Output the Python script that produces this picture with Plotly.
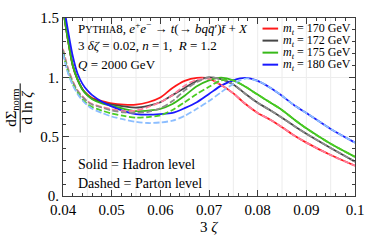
import plotly.graph_objects as go

# ---------------- data ----------------
zeta3 = [0.040, 0.041, 0.042, 0.043, 0.044, 0.045, 0.046, 0.048, 0.050, 0.0525,
         0.055, 0.0575, 0.060, 0.0625, 0.065, 0.0675, 0.070, 0.0725, 0.075, 0.0775,
         0.080, 0.0825, 0.085, 0.0875, 0.090, 0.095, 0.100]

masses = [170, 172, 175, 180]

hadron_170 = [1.58, 1.32, 1.10, 0.98, 0.90, 0.855, 0.825, 0.80, 0.78, 0.77,
              0.77, 0.79, 0.83, 0.91, 0.97, 0.995, 0.99, 0.935, 0.865, 0.775,
              0.70, 0.645, 0.58, 0.51, 0.45, 0.345, 0.255]
hadron_172 = [1.58, 1.32, 1.10, 0.98, 0.90, 0.85, 0.82, 0.79, 0.77, 0.755,
              0.745, 0.76, 0.79, 0.85, 0.91, 0.97, 1.00, 0.985, 0.94, 0.86,
              0.785, 0.725, 0.66, 0.59, 0.525, 0.405, 0.29]
hadron_175 = [1.58, 1.32, 1.10, 0.98, 0.895, 0.85, 0.815, 0.78, 0.76, 0.735,
              0.715, 0.72, 0.735, 0.775, 0.845, 0.925, 0.975, 0.997, 0.975, 0.92,
              0.855, 0.79, 0.725, 0.645, 0.57, 0.44, 0.33]
hadron_180 = [1.64, 1.40, 1.18, 1.03, 0.945, 0.89, 0.85, 0.795, 0.755, 0.715,
              0.69, 0.685, 0.69, 0.70, 0.74, 0.79, 0.86, 0.93, 0.975, 0.995,
              0.97, 0.915, 0.845, 0.765, 0.70, 0.565, 0.45]

parton_170 = [1.24, 1.08, 0.97, 0.89, 0.84, 0.80, 0.775, 0.75, 0.73, 0.715,
              0.72, 0.75, 0.79, 0.85, 0.93, 0.98, 0.99, 0.935, 0.865, 0.775,
              0.70, 0.645, 0.58, 0.51, 0.45, 0.345, 0.255]
parton_172 = [1.23, 1.07, 0.96, 0.885, 0.835, 0.795, 0.77, 0.745, 0.72, 0.705,
              0.70, 0.71, 0.74, 0.80, 0.89, 0.96, 1.00, 0.985, 0.94, 0.86,
              0.785, 0.725, 0.66, 0.59, 0.525, 0.405, 0.29]
parton_175 = [1.21, 1.05, 0.945, 0.87, 0.815, 0.775, 0.75, 0.72, 0.695, 0.675,
              0.66, 0.665, 0.68, 0.725, 0.79, 0.86, 0.92, 0.975, 0.975, 0.92,
              0.855, 0.79, 0.725, 0.645, 0.57, 0.44, 0.33]
parton_180 = [1.20, 1.04, 0.935, 0.86, 0.805, 0.765, 0.735, 0.70, 0.67, 0.645,
              0.625, 0.615, 0.62, 0.635, 0.675, 0.735, 0.80, 0.875, 0.945, 0.99,
              0.97, 0.915, 0.845, 0.765, 0.70, 0.565, 0.45]

x_tick_vals = [0.04, 0.05, 0.06, 0.07, 0.08, 0.09, 0.1]
x_tick_text = ["0.04", "0.05", "0.06", "0.07", "0.08", "0.09", "0.1"]
y_tick_vals = [0.0, 0.5, 1.0, 1.5]
y_tick_text = ["0.", "0.5", "1.", "1.5"]

# ---------------- styles ----------------
hadron_series = [hadron_170, hadron_172, hadron_175, hadron_180]
parton_series = [parton_170, parton_172, parton_175, parton_180]
solid_colors = ["rgb(255,25,25)", "rgb(70,70,70)", "rgb(55,185,25)", "rgb(25,25,255)"]
dashed_colors = ["rgb(255,125,155)", "rgb(140,140,140)", "rgb(75,205,35)", "rgb(140,190,255)"]
FONT = "Liberation Serif, serif"

fig = go.Figure()
for ys, col in zip(hadron_series, solid_colors):
    fig.add_trace(go.Scatter(x=zeta3, y=ys, mode="lines", showlegend=False,
                             line=dict(color=col, width=1.8, shape="spline", smoothing=0.8)))
for ys, col in zip(parton_series, dashed_colors):
    fig.add_trace(go.Scatter(x=zeta3, y=ys, mode="lines", showlegend=False,
                             line=dict(color=col, width=1.8, dash="6px,2.5px",
                                       shape="spline", smoothing=0.8)))

# vertical grid lines every 0.005
grid_x = [0.04 + 0.005 * k for k in range(1, 12)]
shapes = [dict(type="line", xref="x", yref="paper", x0=g, x1=g, y0=0, y1=1,
               line=dict(color="rgb(236,236,236)", width=1), layer="below") for g in grid_x]

annotations = []
def txt(px, py, text, size=14, anchor="left"):
    annotations.append(dict(xref="paper", yref="paper", x=(px - 63) / 300, y=(196 - py) / 185,
                            text=text, showarrow=False, xanchor=anchor, yanchor="middle",
                            font=dict(family=FONT, size=size, color="black")))

txt(76, 21, "P<span style='font-size:10px'>YTHIA</span>8, <i>e</i><sup>+</sup><i>e</i><sup>−</sup> → "
            "<i>t</i>(→ <i>bq</i><i>q̄</i>′)<i>t̄</i> + <i>X</i>", size=13)
txt(76, 40, "3 <i>δζ</i> = 0.02, <i>n</i> = 1,  <i>R</i> = 1.2", size=13)
txt(76, 59, "<i>Q</i> = 2000 GeV", size=13)
txt(76, 163, "Solid = Hadron level", size=14)
txt(76, 183, "Dashed = Parton level", size=14)

# manual legend
legend_rows = [22, 34.5, 47, 59.5]
for m, col, py in zip(masses, solid_colors, legend_rows):
    shapes.append(dict(type="line", xref="paper", yref="paper",
                       x0=(268 - 63) / 300, x1=(284 - 63) / 300,
                       y0=(196 - py) / 185, y1=(196 - py) / 185,
                       line=dict(color=col, width=2)))
    txt(287, py, f"<i>m</i><sub><i>t</i></sub> = {m} GeV", size=12)

# y-axis title as a fraction
annotations.append(dict(xref="paper", yref="paper", x=(11 - 63) / 300, y=(196 - 104) / 185,
                        text="dΣ<sub>norm</sub>", textangle=-90, showarrow=False,
                        xanchor="center", yanchor="middle",
                        font=dict(family=FONT, size=15, color="black")))
annotations.append(dict(xref="paper", yref="paper", x=(27 - 63) / 300, y=(196 - 104) / 185,
                        text="d ln <i>ζ</i>", textangle=-90, showarrow=False,
                        xanchor="center", yanchor="middle",
                        font=dict(family=FONT, size=15, color="black")))
shapes.append(dict(type="line", xref="paper", yref="paper",
                   x0=(19 - 63) / 300, x1=(19 - 63) / 300,
                   y0=(196 - 79) / 185, y1=(196 - 130) / 185,
                   line=dict(color="black", width=1)))
# x-axis title
txt(213, 228, "3 <i>ζ</i>", size=15, anchor="center")

axis_common = dict(showline=True, linecolor="rgb(60,60,60)", linewidth=1, mirror="allticks",
                   ticks="inside", ticklen=6, tickcolor="rgb(60,60,60)", zeroline=False,
                   tickfont=dict(family=FONT, size=15, color="black"))

fig.update_layout(
    width=374, height=241,
    margin=dict(l=63, r=11, t=10, b=45),
    paper_bgcolor="white", plot_bgcolor="white",
    showlegend=False,
    shapes=shapes, annotations=annotations,
    xaxis=dict(range=[0.04, 0.1], tickmode="array", tickvals=x_tick_vals, ticktext=x_tick_text,
               showgrid=False,
               minor=dict(tickmode="linear", tick0=0.04, dtick=0.002, ticks="inside", ticklen=3,
                          tickcolor="rgb(60,60,60)", showgrid=False),
               **axis_common),
    yaxis=dict(range=[0, 1.5], tickmode="array", tickvals=y_tick_vals, ticktext=y_tick_text,
               showgrid=True, gridcolor="rgb(236,236,236)",
               minor=dict(tickmode="linear", tick0=0, dtick=0.1, ticks="inside", ticklen=3,
                          tickcolor="rgb(60,60,60)", showgrid=False),
               **axis_common),
)

fig.write_html("out.html", config={"displayModeBar": False},
               post_script="document.body.style.margin='0';")
